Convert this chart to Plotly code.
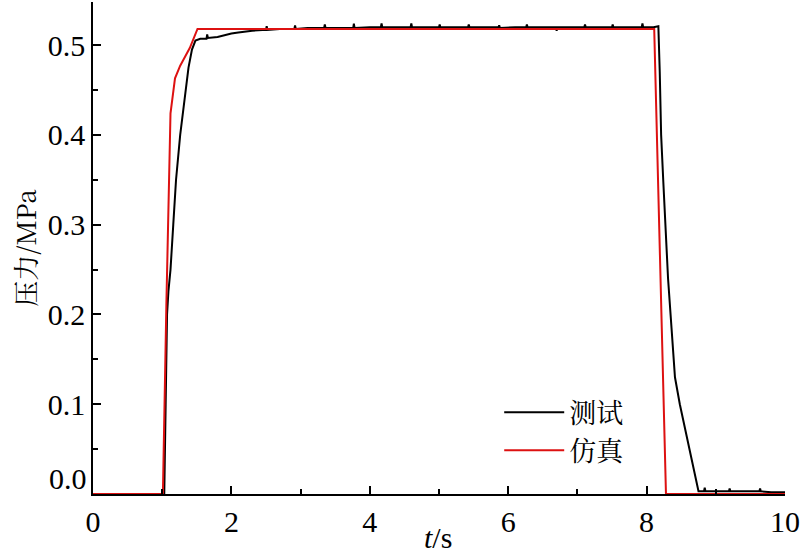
import plotly.graph_objects as go

# Test (measured) pressure curve, t in s, p in MPa
test_t = [0.0, 1.03, 1.05, 1.07, 1.09, 1.12, 1.16, 1.20, 1.26, 1.32, 1.38, 1.43, 1.48, 1.55, 1.64, 1.65, 1.66,
          1.80, 2.00, 2.10, 2.30, 2.50, 2.51, 2.52, 2.70, 2.91, 2.92, 2.93, 3.10, 3.34, 3.35, 3.36,
          3.55, 3.76, 3.77, 3.78, 4.00, 4.16, 4.17, 4.18, 4.40, 4.59, 4.60, 4.61, 4.80, 5.00, 5.01, 5.02,
          5.20, 5.42, 5.43, 5.44, 5.65, 5.86, 5.87, 5.88, 6.10, 6.26, 6.27, 6.28, 6.50, 6.69, 6.70, 6.71,
          6.90, 7.10, 7.11, 7.12, 7.30, 7.50, 7.51, 7.52, 7.75, 7.93, 7.94, 7.95, 8.10, 8.17,
          8.19, 8.21, 8.24, 8.27, 8.31, 8.36, 8.41, 8.48, 8.55, 8.65, 8.75,
          8.83, 8.84, 8.85, 9.00, 9.19, 9.20, 9.21, 9.40, 9.63, 9.64, 9.65, 9.80, 10.0]
test_p = [0.0, 0.0, 0.10, 0.20, 0.226, 0.25, 0.30, 0.35, 0.40, 0.44, 0.475, 0.495, 0.505, 0.507, 0.507, 0.512, 0.508,
          0.509, 0.513, 0.514, 0.516, 0.517, 0.521, 0.517, 0.518, 0.518, 0.522, 0.518, 0.519, 0.519, 0.523, 0.519,
          0.519, 0.519, 0.524, 0.519, 0.520, 0.520, 0.524, 0.520, 0.520, 0.520, 0.524, 0.520, 0.520, 0.520, 0.523, 0.520,
          0.520, 0.520, 0.523, 0.520, 0.520, 0.520, 0.522, 0.519, 0.520, 0.520, 0.523, 0.520, 0.520, 0.520, 0.516, 0.520,
          0.520, 0.520, 0.523, 0.520, 0.520, 0.520, 0.523, 0.520, 0.520, 0.520, 0.524, 0.520, 0.520, 0.521,
          0.47, 0.40, 0.35, 0.296, 0.24, 0.185, 0.13, 0.10, 0.074, 0.04, 0.003,
          0.003, 0.007, 0.003, 0.003, 0.003, 0.006, 0.003, 0.003, 0.003, 0.006, 0.003, 0.002, 0.002]

# Simulation pressure curve
sim_t = [0.0, 1.01, 1.06, 1.12, 1.185, 1.26, 1.33, 1.40, 1.51, 8.11, 8.28, 10.0]
sim_p = [0.0, 0.0, 0.21, 0.424, 0.463, 0.477, 0.487, 0.497, 0.518, 0.518, 0.0, 0.0]

x_ticks = [0, 2, 4, 6, 8, 10]
y_ticks = [0.0, 0.1, 0.2, 0.3, 0.4, 0.5]
y_tick_text = ["", "0.1", "0.2", "0.3", "0.4", "0.5"]

serif = "Liberation Serif, Times New Roman, serif"
cjk = "Noto Serif CJK SC, Noto Sans CJK SC, serif"

fig = go.Figure()
fig.add_trace(go.Scatter(x=test_t, y=test_p, mode="lines", name="测试",
                         line=dict(color="black", width=2)))
fig.add_trace(go.Scatter(x=sim_t, y=sim_p, mode="lines", name="仿真",
                         line=dict(color="#dd1111", width=2)))

fig.update_layout(
    width=800, height=557,
    margin=dict(l=93, r=15, t=2, b=63, autoexpand=False),
    paper_bgcolor="white", plot_bgcolor="white",
    showlegend=True,
    legend=dict(x=0.587, y=0.215, xanchor="left", yanchor="top",
                font=dict(family=cjk, size=27, color="black"),
                bgcolor="rgba(0,0,0,0)", itemwidth=60),
    font=dict(family=serif, size=30, color="black"),
)
fig.update_xaxes(range=[0, 10], tickvals=x_ticks, ticks="inside", ticklen=8, tickwidth=1.5,
                 tickcolor="black", showline=True, linecolor="black", linewidth=1.5,
                 showgrid=False, zeroline=False, automargin=False,
                 minor=dict(dtick=1, ticks="inside", ticklen=5, tickwidth=1.5, tickcolor="black"),
                 tickfont=dict(family=serif, size=30, color="black"))
fig.update_yaxes(range=[0, 0.548], tickvals=y_ticks, ticktext=y_tick_text, ticks="inside", ticklen=8,
                 tickwidth=1.5, tickcolor="black", showline=True, linecolor="black", linewidth=1.5,
                 showgrid=False, zeroline=False, automargin=False,
                 minor=dict(dtick=0.05, ticks="inside", ticklen=5, tickwidth=1.5, tickcolor="black"),
                 tickfont=dict(family=serif, size=30, color="black"),
                 title=dict(text="压力/MPa", font=dict(family=cjk, size=26, color="black"), standoff=4))
fig.add_annotation(x=0, y=0, xref="paper", yref="y", text="0.0", showarrow=False,
                   xanchor="right", yanchor="middle", xshift=-4, yshift=16,
                   font=dict(family=serif, size=30, color="black"))
fig.add_annotation(x=0.5, y=0, xref="paper", yref="paper", text="<i>t</i>/s", showarrow=False,
                   xanchor="center", yanchor="top", xshift=-1, yshift=-25,
                   font=dict(family=serif, size=30, color="black"))
fig.write_html("out.html", config={"displayModeBar": False},
               post_script="document.body.style.margin='0px';document.body.style.padding='0px';")
